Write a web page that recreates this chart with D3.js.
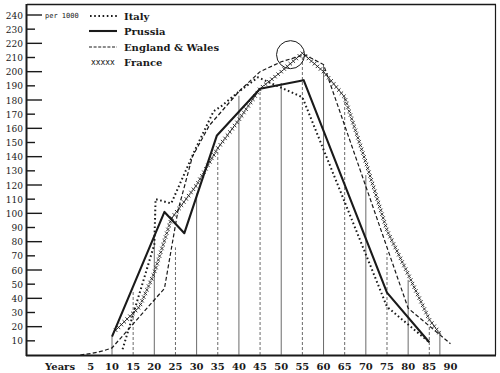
<!DOCTYPE html>
<html><head><meta charset="utf-8">
<script src="https://cdn.jsdelivr.net/npm/d3@7"></script>
<style>body{margin:0;background:#fff}svg{display:block}</style>
</head><body>
<svg id="c" width="500" height="373"></svg>
<script>
// ---- data ----
const yTicks = [10,20,30,40,50,60,70,80,90,100,110,120,130,140,150,160,170,180,190,200,210,220,230,240];
const xTicks = [5,10,15,20,25,30,35,40,45,50,55,60,65,70,75,80,85,90];
const seriesNames = ["Italy","Prussia","England & Wales","France"];

const italyAges  = [12.5, 20, 20.3, 24, 29.5, 34, 36, 40, 44.5, 55, 75, 85];
const italyRates = [4, 78, 110, 107, 144, 172, 176, 186, 196, 182, 34, 9];

const prussiaAges  = [10, 22.4, 27.1, 34.8, 45, 55.3, 75, 85];
const prussiaRates = [13, 101, 86, 155, 188, 194, 44, 9];

const englandAges  = [2.5, 5, 8, 10, 22.4, 25.6, 29, 33, 40, 45, 50, 55.5, 60, 80, 90];
const englandRates = [0, 1, 3, 5, 47, 102, 140, 162, 186, 200, 207, 212, 205, 33, 8];

const franceAges  = [10.7, 16.5, 20, 24, 30, 35, 40, 45, 50, 55, 60, 65, 70, 75, 80, 85, 87.5];
const franceRates = [17, 34, 58, 96, 120, 146, 166, 188, 200, 213, 200, 182, 136, 88, 57, 25, 15];

const guideAges = [10, 15, 20, 25, 30, 35, 40, 45, 50, 55, 60, 65, 70, 75, 80, 85, 87.5];
const guideTops = [13, 46, 84, 76, 114, 145, 183, 188, 192, 210, 205, 182, 127, 72, 53, 20, 16];

const circleAge = 52.2, circleRate = 212;

// ---- drawing ----
const svg = d3.select("#c");
const ink = "#1a1a1a";
const serif = "DejaVu Serif";
const x = d3.scaleLinear().domain([10, 85]).range([112, 429.3]);
const y = d3.scaleLinear().domain([0, 240]).range([355, 15]);

// frame
svg.append("line").attr("x1", 27).attr("x2", 496).attr("y1", 4.5).attr("y2", 4.5).attr("stroke", ink).attr("stroke-width", 1.3);
svg.append("line").attr("x1", 495.5).attr("x2", 495.5).attr("y1", 4.5).attr("y2", 355).attr("stroke", ink).attr("stroke-width", 1.2);
svg.append("line").attr("x1", 26.5).attr("x2", 26.5).attr("y1", 4).attr("y2", 356).attr("stroke", ink).attr("stroke-width", 2);
svg.append("line").attr("x1", 26).attr("x2", 496).attr("y1", 355.5).attr("y2", 355.5).attr("stroke", ink).attr("stroke-width", 2);

// y ticks and labels
const yg = svg.append("g");
yg.selectAll("line").data(yTicks).join("line")
  .attr("x1", 27).attr("x2", d => d % 20 === 0 ? 42 : 35)
  .attr("y1", d => y(d)).attr("y2", d => y(d))
  .attr("stroke", ink).attr("stroke-width", 1.4);
yg.selectAll("text").data(yTicks).join("text")
  .attr("x", 23).attr("y", d => y(d) + 3.5).attr("text-anchor", "end")
  .attr("font-family", serif).attr("font-size", 9).attr("fill", ink)
  .text(d => d);
svg.append("text").attr("x", 45).attr("y", 17.5).attr("font-family", "DejaVu Sans Mono")
  .attr("font-size", 7).attr("fill", ink).text("per 1000");

// x labels
const xg = svg.append("g").attr("font-family", serif).attr("font-size", 10)
  .attr("font-weight", "bold").attr("fill", ink);
xg.selectAll("text").data(xTicks).join("text")
  .attr("x", d => x(d)).attr("y", 370).attr("text-anchor", "middle").text(d => d);
xg.append("text").attr("x", 45).attr("y", 370).text("Years");

// vertical guide lines
svg.append("g").selectAll("line").data(guideAges).join("line")
  .attr("x1", d => x(d)).attr("x2", d => x(d))
  .attr("y1", y(0)).attr("y2", (d, i) => y(guideTops[i]))
  .attr("stroke", "#444").attr("stroke-width", 0.8)
  .attr("stroke-dasharray", d => (d % 10 === 5 ? "3,2" : null));

const line = d3.line().x(d => x(d[0])).y(d => y(d[1]));
const zipS = (a, r) => a.map((v, i) => [v, r[i]]);

// Italy dotted
svg.append("path").attr("d", line(zipS(italyAges, italyRates))).attr("fill", "none")
  .attr("stroke", ink).attr("stroke-width", 2).attr("stroke-dasharray", "1.6,2.6");
// Prussia solid
svg.append("path").attr("d", line(zipS(prussiaAges, prussiaRates))).attr("fill", "none")
  .attr("stroke", ink).attr("stroke-width", 2.1).attr("stroke-linejoin", "round");
// England dashed
svg.append("path").attr("d", line(zipS(englandAges, englandRates))).attr("fill", "none")
  .attr("stroke", ink).attr("stroke-width", 1.2).attr("stroke-dasharray", "4,2.3");
// France crosses
const fp = svg.append("path").attr("d", line(zipS(franceAges, franceRates))).attr("fill", "none").attr("stroke", "none");
const node = fp.node(), L = node.getTotalLength();
let crosses = "";
for (let s = 1; s < L; s += 4) {
  const p = node.getPointAtLength(s), h = 1.7;
  crosses += `M${p.x - h},${p.y - h}L${p.x + h},${p.y + h}M${p.x - h},${p.y + h}L${p.x + h},${p.y - h}`;
}
svg.append("path").attr("d", crosses).attr("stroke", ink).attr("stroke-width", 0.9).attr("fill", "none");

// circle
svg.append("circle").attr("cx", x(circleAge)).attr("cy", y(circleRate)).attr("r", 14)
  .attr("fill", "none").attr("stroke", ink).attr("stroke-width", 1);

// legend
const lg = svg.append("g");
const legY = [16, 31, 47, 62];
lg.append("line").attr("x1", 90).attr("x2", 117).attr("y1", legY[0]).attr("y2", legY[0])
  .attr("stroke", ink).attr("stroke-width", 2).attr("stroke-dasharray", "1.6,2.6");
lg.append("line").attr("x1", 89).attr("x2", 117).attr("y1", legY[1]).attr("y2", legY[1])
  .attr("stroke", ink).attr("stroke-width", 2.1);
lg.append("line").attr("x1", 89).attr("x2", 117).attr("y1", legY[2]).attr("y2", legY[2])
  .attr("stroke", ink).attr("stroke-width", 1.2).attr("stroke-dasharray", "3,1.6");
lg.append("text").attr("x", 91).attr("y", legY[3] + 2.5).attr("font-family", "DejaVu Sans")
  .attr("font-size", 8).attr("fill", ink).text("xxxxx");
lg.selectAll("text.n").data(seriesNames).join("text").attr("class", "n")
  .attr("x", 124).attr("y", (d, i) => legY[i] + 3.5)
  .attr("font-family", serif).attr("font-weight", "bold").attr("font-size", 10)
  .attr("fill", ink).text(d => d);
</script>
</body></html>
